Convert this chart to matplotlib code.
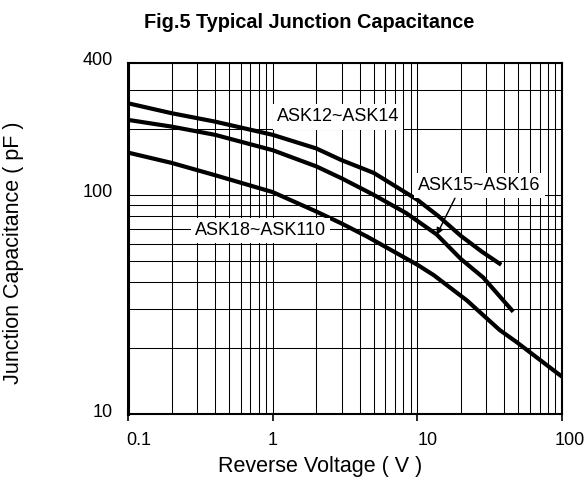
import matplotlib
matplotlib.use('Agg')
import matplotlib.pyplot as plt
import matplotlib.transforms as mtransforms
import numpy as np

plt.rcParams['font.family'] = ['Liberation Sans', 'DejaVu Sans']

# Curves (log-log)
x_ask12 = [0.1, 0.2, 0.4, 1.0, 2.0, 3.0, 5.0, 10, 14, 20, 28, 38]
y_ask12 = [262, 236, 216, 188, 163, 144, 126, 95, 80, 65, 55, 48]

x_ask15 = [0.1, 0.2, 0.4, 1.0, 2.0, 3.0, 5.0, 8.4, 13.6, 20, 28.5, 46]
y_ask15 = [220, 205, 188, 160, 135, 119, 100, 82.5, 66, 51, 42, 29.3]

x_ask18 = [0.1, 0.2, 0.4, 1.0, 2.0, 3.0, 4.5, 10, 13, 22, 37, 48.5, 100]
y_ask18 = [156, 140, 123, 103, 84, 74, 64.5, 48, 43, 33, 24.2, 21.3, 14.8]

x_ticks = [0.1, 1, 10, 100]
x_ticklabels = ['0.1', '1', '10', '100']
y_ticks = [10, 100, 400]
y_ticklabels = ['10', '100', '400']

W, H, DPI = 587, 490, 100
fig = plt.figure(figsize=(W / DPI, H / DPI), dpi=DPI)
ax = fig.add_axes([128 / W, 1 - 414 / H, (562 - 128) / W, (414 - 63) / H])

ax.set_xscale('log')
ax.set_yscale('log')
ax.set_xlim(0.1, 100)
ax.set_ylim(10, 400)

# full grid, major + minor, thin black
ax.set_axisbelow(True)
ax.grid(True, which='both', color='black', linewidth=0.75)

for xs, ys in [(x_ask12, y_ask12), (x_ask15, y_ask15), (x_ask18, y_ask18)]:
    ax.plot(xs, ys, color='black', linewidth=3.0, solid_capstyle='butt', zorder=3)

# ticks
ax.set_xticks(x_ticks)
ax.set_xticklabels(x_ticklabels, fontsize=13)
ax.set_yticks(y_ticks)
ax.set_yticklabels(y_ticklabels, fontsize=13)
ax.xaxis.set_minor_formatter(matplotlib.ticker.NullFormatter())
ax.yaxis.set_minor_formatter(matplotlib.ticker.NullFormatter())
ax.tick_params(axis='x', which='major', length=5, width=1.2, direction='out', pad=8)
ax.tick_params(axis='x', which='minor', length=0)
ax.tick_params(axis='y', which='both', length=0, pad=11)

# small shifts to sit the labels like the scan
x_shift = [11, 0, 10, 8]
for tick, dx in zip(ax.xaxis.get_major_ticks(), x_shift):
    off = mtransforms.ScaledTranslation(dx / DPI, 0, fig.dpi_scale_trans)
    tick.label1.set_transform(tick.label1.get_transform() + off)
for tick in ax.yaxis.get_major_ticks():
    off = mtransforms.ScaledTranslation(0, 4 / DPI, fig.dpi_scale_trans)
    tick.label1.set_transform(tick.label1.get_transform() + off)

for side in ['top', 'right', 'bottom']:
    ax.spines[side].set_linewidth(1.5)
ax.spines['left'].set_linewidth(2.2)
for s in ax.spines.values():
    s.set_color('black')
    s.set_zorder(4)

# curve labels
box = dict(facecolor='white', edgecolor='none', pad=3)
ax.text(1.07, 227, 'ASK12~ASK14', fontsize=13, ha='left', va='center',
        bbox=box, zorder=5)
ax.text(10.1, 110, 'ASK15~ASK16', fontsize=13, ha='left', va='center',
        bbox=box, zorder=5)
ax.text(0.29, 69, 'ASK18~ASK110', fontsize=13, ha='left', va='center',
        bbox=box, zorder=5)
ax.annotate('', xy=(13.6, 65.7), xytext=(18.2, 96.6),
            arrowprops=dict(arrowstyle='-|>', color='black', lw=1.0,
                            mutation_scale=10, shrinkA=0, shrinkB=0),
            zorder=5)

fig.text(309 / W, 1 - 22.5 / H, 'Fig.5 Typical Junction Capacitance',
         fontsize=14.3, fontweight='bold', ha='center', va='center')
fig.text(320 / W, 1 - 466.5 / H, 'Reverse Voltage ( V )', fontsize=15.5,
         ha='center', va='center')
fig.text(14 / W, 1 - 253 / H, 'Junction Capacitance ( pF )', fontsize=15.5,
         rotation=90, ha='center', va='center')

fig.savefig('out.png', dpi=DPI, facecolor='white')
plt.close('all')
